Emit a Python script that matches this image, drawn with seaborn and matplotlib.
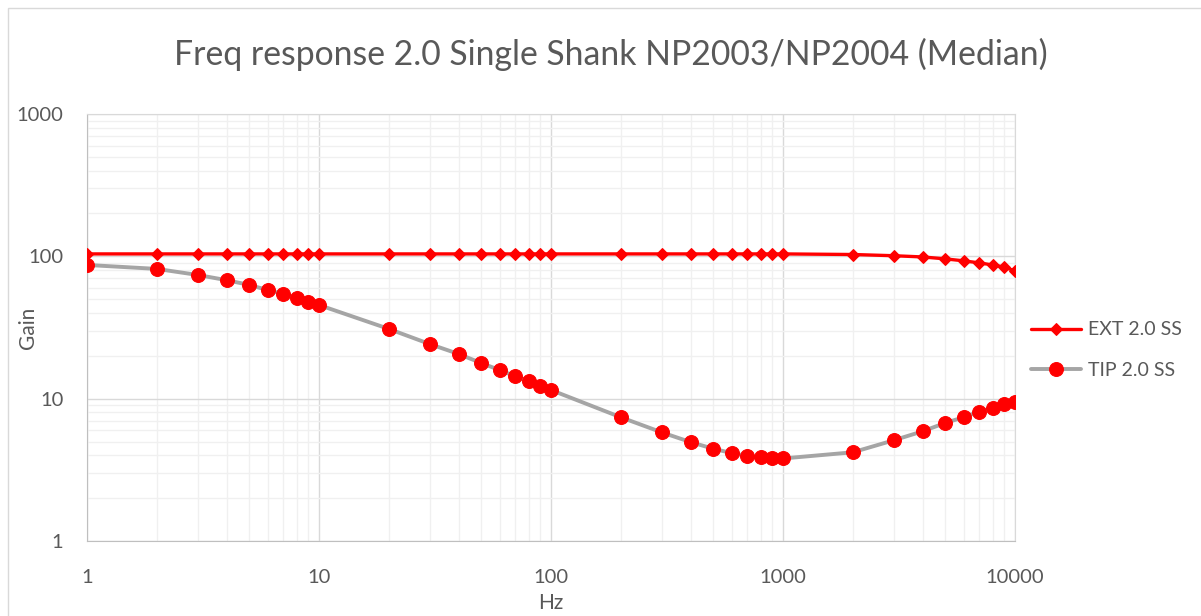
import matplotlib
matplotlib.use("Agg")
import matplotlib.pyplot as plt
import matplotlib.ticker as mticker
from matplotlib.patches import Rectangle
import pandas as pd
import seaborn as sns

# frequencies (Hz)
freq = [1, 2, 3, 4, 5, 6, 7, 8, 9, 10,
        20, 30, 40, 50, 60, 70, 80, 90, 100,
        200, 300, 400, 500, 600, 700, 800, 900, 1000,
        2000, 3000, 4000, 5000, 6000, 7000, 8000, 9000, 10000]

# gain
ext_gain = [104, 104, 104, 104, 104, 104, 104, 104, 104, 104,
            104, 104, 104, 104, 104, 104, 104, 104, 104,
            104, 104, 104, 104, 104, 104, 104, 104, 104,
            103, 101, 99, 96, 93, 90, 87, 84, 79]
tip_gain = [87, 81.6, 74, 68, 63, 58, 54.4, 51, 47.8, 45.5,
            30.9, 24.2, 20.6, 17.8, 15.9, 14.4, 13.3, 12.3, 11.5,
            7.4, 5.8, 4.95, 4.45, 4.15, 3.95, 3.88, 3.8, 3.8,
            4.2, 5.1, 5.9, 6.75, 7.4, 8.1, 8.6, 9.1, 9.5]

tick_vals = [1, 10, 100, 1000, 10000]

df = pd.DataFrame({"Hz": freq, "EXT": ext_gain, "TIP": tip_gain})

sns.set_style("white")
plt.rcParams["font.family"] = ["Lato", "DejaVu Sans"]

text_col = "#595959"

fig = plt.figure(figsize=(12.01, 6.16), dpi=100)
ax = fig.add_axes([87 / 1201, 1 - 541 / 616, 928 / 1201, 427 / 616])

sns.lineplot(data=df, x="Hz", y="EXT", ax=ax, color="red", lw=2.4,
             marker="D", markersize=6.5, markerfacecolor="red",
             markeredgecolor="red", label="EXT 2.0 SS", zorder=3)
sns.lineplot(data=df, x="Hz", y="TIP", ax=ax, color="#a5a5a5", lw=2.8,
             marker="o", markersize=10, markerfacecolor="red",
             markeredgecolor="red", label="TIP 2.0 SS", zorder=4)

ax.set_xscale("log")
ax.set_yscale("log")
ax.set_xlim(1, 10000)
ax.set_ylim(1, 1000)

ax.xaxis.set_major_locator(mticker.FixedLocator(tick_vals))
ax.xaxis.set_major_formatter(mticker.FixedFormatter([str(v) for v in tick_vals]))
ax.yaxis.set_major_locator(mticker.FixedLocator(tick_vals[:4]))
ax.yaxis.set_major_formatter(mticker.FixedFormatter([str(v) for v in tick_vals[:4]]))
ax.xaxis.set_minor_locator(mticker.LogLocator(base=10, subs=range(2, 10)))
ax.yaxis.set_minor_locator(mticker.LogLocator(base=10, subs=range(2, 10)))
ax.xaxis.set_minor_formatter(mticker.NullFormatter())
ax.yaxis.set_minor_formatter(mticker.NullFormatter())

ax.grid(which="major", color="#d9d9d9", lw=1.0)
ax.grid(which="minor", color="#f0f0f0", lw=1.0)
ax.set_axisbelow(True)
ax.tick_params(which="both", length=0, labelsize=14.5, labelcolor=text_col)
ax.tick_params(axis="x", pad=20)
ax.tick_params(axis="y", pad=17)

for side in ["left", "bottom"]:
    ax.spines[side].set_color("#bfbfbf")
for side in ["top", "right"]:
    ax.spines[side].set_color("#d9d9d9")

ax.set_xlabel("")
ax.set_ylabel("")
fig.text(28 / 1201, 1 - 328 / 616, "Gain", rotation=90, ha="center", va="center",
         fontsize=15, color=text_col)
fig.text(551 / 1201, 1 - 603 / 616, "Hz", ha="center", va="center",
         fontsize=15, color=text_col)
fig.text(611 / 1201, 1 - 54 / 616, "Freq response 2.0 Single Shank NP2003/NP2004 (Median)",
         ha="center", va="center", fontsize=24.3, color=text_col)

handles, labels = ax.get_legend_handles_labels()
ax.get_legend().remove()
fig.legend(handles, labels, loc="center left",
           bbox_to_anchor=(1013 / 1201, 1 - 350 / 616), frameon=False,
           fontsize=14, handlelength=2.6, labelspacing=1.2, handletextpad=0.35,
           labelcolor=text_col)

fig.patches.append(Rectangle((8 / 1201, -0.1), 1.2, 1.087, transform=fig.transFigure,
                             fill=False, edgecolor="#d9d9d9", lw=1.0))

fig.savefig("out.png", dpi=100, facecolor="white")
